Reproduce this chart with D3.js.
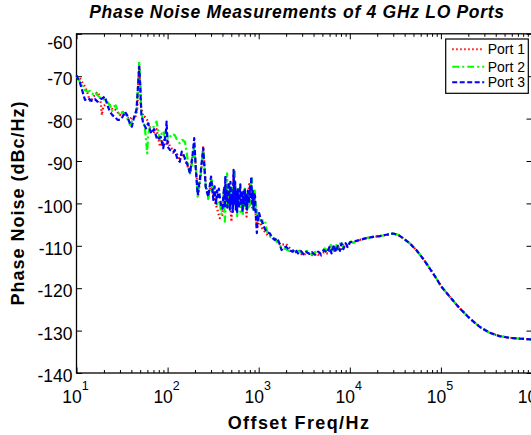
<!DOCTYPE html>
<html>
<head>
<meta charset="utf-8">
<script src="https://cdn.jsdelivr.net/npm/d3@7"></script>
<style>
  body { margin: 0; background: #fff; }
  svg { display: block; font-family: "Liberation Sans", Arial, sans-serif; }
</style>
</head>
<body>
<div id="chart"></div>
<script>
  // tick values
  const xMajorTicks = [1e1, 1e2, 1e3, 1e4, 1e5, 1e6];
  const xExponents = ["1", "2", "3", "4", "5", "6"];
  const yTicks = [-140, -130, -120, -110, -100, -90, -80, -70, -60];

  const seriesNames = ["Port 1", "Port 2", "Port 3"];
  const seriesColors = ["#ff0000", "#00ff00", "#0000ff"];

  // [offset freq (Hz), phase noise (dBc/Hz)] below ~1.3 kHz, read per port
  const port1Low = [
    [10, -70], [10.5, -70.2], [10.9, -70.5], [11.6, -71.5], [12.4, -72.5], [13.2, -74],
    [14.1, -76], [15, -75.3], [15.9, -74.4], [17, -73.7], [18.1, -74.8], [18.6, -77],
    [19, -79.2], [19.7, -77], [20.5, -76.8], [22, -76.2], [23.3, -76.8], [25, -78],
    [27, -77.9], [28.5, -78.6], [30, -79.2], [32, -78.4], [34, -79], [36.5, -79.8],
    [38.6, -80.2], [41, -79.5], [43.8, -80], [46.4, -78], [47.6, -72], [48.8, -67.5],
    [50, -72], [51, -77], [54, -79.6], [56.4, -79.6], [59.7, -80.3], [64, -82],
    [69.5, -83.5], [75.7, -82.5], [79, -84.5], [82.3, -86.6], [86, -85], [89.5, -85.8],
    [93, -84.6], [97.5, -86.2], [102, -85.5], [106, -86.6], [113, -87.2], [120, -88],
    [128, -88.5], [136, -89.8], [143, -88.2], [150, -88.8], [160, -90.5], [176, -92.5],
    [187, -89.3], [196, -87], [206, -92.5], [217, -98], [232, -93], [246, -86.5],
    [262, -95.5], [279, -98.4], [292, -96.5], [304, -94.5], [318, -98.5], [330, -99.5],
    [352, -101.5], [374, -103.5], [400, -102.7], [415, -97.5], [430, -95], [445, -98.5],
    [460, -100], [480, -97], [502, -104.3], [515, -98], [530, -93], [550, -99],
    [570, -101], [595, -97.8], [621, -98], [650, -100.2], [680, -100.5], [710, -98.5],
    [735, -103.1], [760, -99], [790, -95], [820, -97.5], [850, -101], [880, -100],
    [906, -99], [930, -103], [950, -105], [975, -105.5], [1000, -104.5], [1050, -104.8],
    [1100, -106], [1180, -106.8],
  ];
  const port2Low = [
    [10, -70], [10.9, -71.3], [11.6, -72.5], [12.4, -73.3], [13.3, -73.6], [14.1, -73.5],
    [15, -74.2], [15.9, -73.7], [17, -74.5], [18.1, -75], [19.3, -75.3], [20.5, -75.6],
    [21.8, -76.2], [23.3, -76.8], [24.5, -78.2], [25.5, -77.2], [27, -76.9], [28.5, -78.4],
    [30, -79.2], [32, -78.5], [34, -78.8], [36.5, -80.2], [38.6, -81.5], [41, -80.4],
    [43.8, -79.6], [46, -77.5], [47.5, -71], [48.8, -66.5], [50, -71], [51.5, -78.5],
    [54, -80.5], [56.4, -82.3], [58.5, -86], [59.7, -88.2], [61, -84], [64, -82],
    [69, -82.2], [75.7, -80.7], [79, -83], [82.3, -84.9], [86, -83.5], [89.5, -82.9],
    [93.5, -84.5], [97.5, -82.8], [101, -84.8], [106, -84.3], [113, -83.6], [120, -83.9],
    [128, -85.2], [136, -85.8], [145, -85], [155, -85.5], [162, -88], [170, -91.5],
    [178, -93.2], [188, -89.5], [196, -86.5], [205, -92], [214, -98.4], [230, -93.5],
    [246, -87.5], [262, -96], [279, -99], [292, -96.8], [304, -94], [318, -97.5],
    [330, -98], [352, -100.6], [374, -99.5], [387, -102.5], [400, -102], [412, -97.5],
    [425, -104.3], [438, -99], [450, -92.9], [458, -99.5], [466, -100.5], [474, -97],
    [482, -96], [491, -101], [500, -99.5], [510, -96.5], [520, -101], [535, -96],
    [547, -92.5], [556, -99], [565, -101.5], [572, -98], [580, -103], [590, -98.5],
    [600, -100.8], [610, -96.5], [621, -97.5], [630, -102], [640, -101.6], [650, -97.5],
    [660, -100], [670, -103], [680, -98], [692, -101], [704, -96.5], [717, -100],
    [730, -101], [747, -98], [765, -96.8], [780, -101], [798, -101.2], [815, -97],
    [835, -93.7], [848, -99.5], [860, -98], [875, -101.5], [890, -100], [903, -97],
    [915, -98.5], [935, -102], [953, -101.2], [970, -103], [985, -104.5], [1030, -103.8],
    [1074, -104.3], [1120, -104], [1167, -103.9],
  ];
  const port3Low = [
    [10, -69.8], [10.9, -71.5], [11.6, -73.5], [12.4, -75.6], [13.5, -75.2], [14.6, -75.8],
    [15.9, -75.4], [17, -76], [18.1, -75.5], [19.3, -75.2], [20.5, -74.8], [21.8, -76.8],
    [23.3, -78.4], [24.8, -79.2], [26.5, -79.6], [28.2, -80.3], [30, -80.3], [32, -79.6],
    [34, -78.4], [36, -79.2], [37.8, -80.7], [40.5, -81.9], [43, -79.5], [45.5, -78],
    [47.5, -72], [48.8, -67.8], [50, -72], [51.5, -79], [54, -81.1], [58, -82.3],
    [61, -81.1], [66, -83.5], [71, -82.5], [77, -85], [84, -84.3], [89.5, -87],
    [95, -84], [97.5, -80.7], [100, -86.6], [106, -87.4], [115, -88], [120, -87.4],
    [128, -89.5], [136, -90.2], [143, -87.8], [150, -88.6], [158, -89.8], [166, -91],
    [176, -92.9], [187, -89], [196, -84.6], [204, -92], [214, -98], [230, -93],
    [246, -87], [262, -96.1], [279, -98.4], [300, -93.7], [310, -97], [318, -99.2],
    [328, -96], [340, -100], [348, -97], [356, -98.5], [365, -96.5], [374, -98.4],
    [387, -100.5], [400, -101.2], [410, -98], [418, -96.1], [425, -101], [430, -93.5],
    [437, -99], [445, -97], [452, -101], [460, -100], [467, -95], [475, -97.5],
    [482, -101.5], [490, -94.9], [500, -100], [510, -98], [520, -102], [530, -92.1],
    [538, -98], [545, -100], [552, -95], [560, -101.5], [570, -97], [580, -102],
    [590, -96.7], [602, -101], [615, -99.5], [628, -95.5], [640, -100.5], [652, -97],
    [665, -102], [678, -97.2], [690, -100], [703, -96.5], [715, -100.5], [730, -98],
    [745, -101.5], [760, -97], [780, -100], [800, -96], [815, -99], [830, -93.7],
    [845, -100], [860, -97], [880, -101.5], [895, -97.5], [910, -98.3], [925, -102],
    [935, -103.9], [955, -107], [970, -103], [980, -104], [1010, -102.3], [1050, -103.6],
    [1100, -104.5], [1167, -106], [1250, -106.8],
  ];

  // noisy floor between ~1.3 kHz and ~12 kHz
  const port1Mid = [
    [1250, -107.5], [1500, -108.3], [1650, -109.3], [1750, -109.8], [2000, -109.6],
    [2200, -110.6], [2500, -111.6], [2800, -111.2], [3000, -112.2], [3500, -111.7],
    [4000, -112.4], [4400, -111.8], [4700, -112.6], [5200, -111.5], [5800, -111.9],
    [6300, -110.5], [6800, -111.4], [7400, -110.2], [8000, -110.9], [8600, -109.8],
    [9300, -110.2], [10000, -109.4], [11000, -109.2],
  ];
  const port2Mid = [
    [1260, -107.5], [1400, -107.8], [1630, -109.4], [1800, -110.5], [2000, -110.8],
    [2300, -111.5], [2600, -111], [3000, -111.7], [3400, -111.2], [3800, -112],
    [4300, -111.3], [4800, -111.7], [5300, -110.6], [5800, -111.4], [6200, -109.8],
    [6600, -111.2], [7000, -109.5], [7500, -110.8], [8000, -109], [8500, -110.5],
    [9000, -109.6], [9600, -109.9], [10200, -109], [11000, -109.3],
  ];
  const port3Mid = [
    [1330, -107.1], [1420, -108.2], [1500, -108.6], [1600, -108.2], [1700, -109.6],
    [1780, -111], [1900, -110.4], [2000, -110.2], [2150, -111], [2350, -111.4],
    [2500, -110.8], [2700, -111.8], [2900, -111.2], [3100, -112], [3300, -111.4],
    [3600, -111.9], [3830, -111.5], [4100, -112.1], [4470, -111.4], [4800, -111.9],
    [5200, -111], [5600, -111.6], [6000, -110.2], [6300, -111.8], [6700, -109.8],
    [7000, -111.5], [7400, -110], [7800, -111.2], [8100, -109.4], [8500, -110.8],
    [9000, -109.4], [9500, -110.3], [10000, -109.2], [10800, -109], [11500, -108.9],
  ];

  // the three ports coincide above ~12 kHz
  const sharedTail = [
    [12850, -108.6], [15200, -108.2], [18000, -107.9], [21300, -107.7], [25200, -107.4],
    [29800, -107.1], [33800, -107.4], [38300, -108.2], [45400, -109.4], [53700, -111],
    [63500, -113], [75200, -115.3], [89100, -117.7], [101000, -119.6], [125000, -122],
    [160000, -124.7], [207000, -127.1], [266000, -129.1], [342000, -130.5], [440000, -131.3],
    [566000, -131.7], [730000, -131.9], [1000000, -132.1],
  ];

  const series = [
    port1Low.concat(port1Mid, sharedTail),
    port2Low.concat(port2Mid, sharedTail),
    port3Low.concat(port3Mid, sharedTail),
  ];
  const dashes = ["1.5,2.5", "7,3,2,3", "5,2.5"];

  const W = 531;
  const H = 435;
  const plot = { left: 76.5, right: 532, top: 33.8, bottom: 373 };

  const svg = d3
    .select("#chart")
    .append("svg")
    .attr("width", W)
    .attr("height", H);

  const xScale = d3.scaleLog().domain([10, 1e6]).range([plot.left, plot.right]);
  const yScale = d3.scaleLinear().domain([-140, -60]).range([plot.bottom, plot.top]);

  const xMinorTicks = [];
  xMajorTicks.slice(0, -1).forEach((d) => {
    for (let k = 2; k < 10; k++) xMinorTicks.push(d * k);
  });

  // inward ticks on all four sides
  const addAxis = (axis, tx, ty) => {
    const g = svg
      .append("g")
      .attr("transform", `translate(${tx},${ty})`)
      .call(axis.tickFormat(""));
    g.select(".domain").remove();
    g.selectAll("line").attr("stroke", "#000").attr("stroke-width", 1);
  };
  addAxis(d3.axisBottom(xScale).tickValues(xMajorTicks).tickSize(-5.5), 0, plot.bottom);
  addAxis(d3.axisBottom(xScale).tickValues(xMinorTicks).tickSize(-3), 0, plot.bottom);
  addAxis(d3.axisTop(xScale).tickValues(xMajorTicks).tickSize(-5.5), 0, plot.top);
  addAxis(d3.axisTop(xScale).tickValues(xMinorTicks).tickSize(-3), 0, plot.top);
  addAxis(d3.axisLeft(yScale).tickValues(yTicks).tickSize(-5.5), plot.left, 0);
  addAxis(d3.axisRight(yScale).tickValues(yTicks).tickSize(-5.5), plot.right, 0);

  // axes box
  svg
    .append("rect")
    .attr("x", plot.left)
    .attr("y", plot.top)
    .attr("width", plot.right - plot.left)
    .attr("height", plot.bottom - plot.top)
    .attr("fill", "none")
    .attr("stroke", "#000")
    .attr("stroke-width", 1.3);

  // y tick labels (top one sits a little lower, as in the original export)
  svg
    .selectAll("text.ytick")
    .data(yTicks)
    .enter()
    .append("text")
    .attr("class", "ytick")
    .attr("x", plot.left - 4)
    .attr("y", (d) => Math.max(yScale(d) + 3, 43))
    .attr("dy", "0.35em")
    .attr("text-anchor", "end")
    .style("font-size", "17.5px")
    .text((d) => d);

  // x tick labels as powers of ten
  const xLabels = svg
    .selectAll("text.xtick")
    .data(xMajorTicks)
    .enter()
    .append("text")
    .attr("class", "xtick")
    .attr("x", (d) => xScale(d) - 1)
    .attr("y", 403)
    .attr("text-anchor", "middle")
    .style("font-size", "17.5px");
  xLabels.append("tspan").text("10");
  xLabels
    .append("tspan")
    .attr("dy", -13)
    .style("font-size", "12.5px")
    .text((d, i) => xExponents[i]);

  // data lines
  const line = d3
    .line()
    .x((d) => xScale(d[0]))
    .y((d) => yScale(d[1]));

  svg
    .selectAll("path.port")
    .data(series)
    .enter()
    .append("path")
    .attr("class", "port")
    .attr("d", line)
    .attr("fill", "none")
    .attr("stroke", (d, i) => seriesColors[i])
    .attr("stroke-width", 2.2)
    .attr("stroke-dasharray", (d, i) => dashes[i])
    .attr("stroke-linejoin", "round");

  // title and axis labels
  svg
    .append("text")
    .attr("x", 297)
    .attr("y", 17.5)
    .attr("text-anchor", "middle")
    .style("font-size", "17.5px")
    .style("font-weight", "bold")
    .style("font-style", "italic")
    .style("letter-spacing", "0.7px")
    .text("Phase Noise Measurements of 4 GHz LO Ports");

  svg
    .append("text")
    .attr("x", 299)
    .attr("y", 429)
    .attr("text-anchor", "middle")
    .style("font-size", "18px")
    .style("font-weight", "bold")
    .style("letter-spacing", "1.4px")
    .text("Offset Freq/Hz");

  svg
    .append("text")
    .attr("transform", "translate(24,203) rotate(-90)")
    .attr("text-anchor", "middle")
    .style("font-size", "18px")
    .style("font-weight", "bold")
    .style("letter-spacing", "1px")
    .text("Phase Noise (dBc/Hz)");

  // legend
  const legend = svg.append("g").attr("transform", "translate(445.7,39)");
  legend
    .append("rect")
    .attr("width", 82.6)
    .attr("height", 54.3)
    .attr("fill", "#fff")
    .attr("stroke", "#000")
    .attr("stroke-width", 1.2);
  const rows = [10.3, 27.7, 43.3];
  seriesNames.forEach((name, i) => {
    legend
      .append("line")
      .attr("x1", 6.5)
      .attr("x2", 38.5)
      .attr("y1", rows[i])
      .attr("y2", rows[i])
      .attr("stroke", seriesColors[i])
      .attr("stroke-width", 2)
      .attr("stroke-dasharray", dashes[i]);
    legend
      .append("text")
      .attr("x", 42)
      .attr("y", rows[i])
      .attr("dy", "0.35em")
      .style("font-size", "14px")
      .text(name);
  });
</script>
</body>
</html>
